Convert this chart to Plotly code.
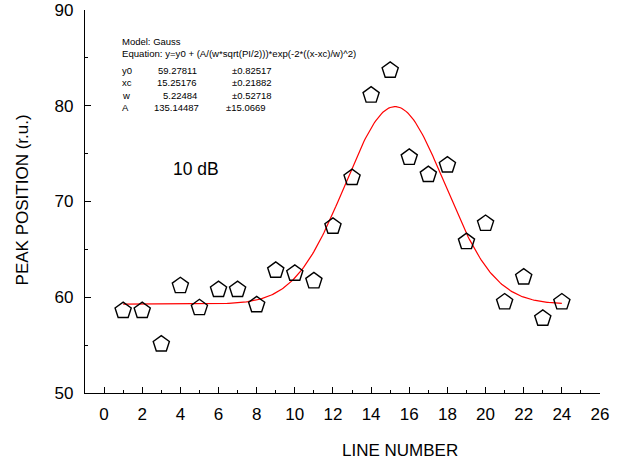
import numpy as np
import plotly.graph_objects as go

# Measured peak positions per line
line_number = [1, 2, 3, 4, 5, 6, 7, 8, 9, 10, 11, 12,
               13, 14, 15, 16, 17, 18, 19, 20, 21, 22, 23, 24]
peak_position = [58.6, 58.6, 55.1, 61.2, 58.9, 60.8, 60.8, 59.2, 62.8, 62.5, 61.7, 67.4,
                 72.5, 81.1, 83.7, 74.6, 72.8, 73.8, 65.8, 67.7, 59.5, 62.1, 57.8, 59.5]

# Gauss fit parameters
param_names = ["y0", "xc", "w", "A"]
param_values = [59.27811, 15.25176, 5.22484, 135.14487]
param_errors = ["\u00b10.82517", "\u00b10.21882", "\u00b10.52718", "\u00b115.0669"]

y0, xc, w, A = param_values
x_fit = np.linspace(1, 24, 300)
y_fit = y0 + (A / (w * np.sqrt(np.pi / 2))) * np.exp(-2 * ((x_fit - xc) / w) ** 2)

W, H = 642, 467
L, R, T, B = 85, 600, 9.5, 392.7
FONT = "Liberation Sans, Arial, sans-serif"


def px(x):
    return (x - L) / (R - L)


def py(y):
    return (B - y) / (B - T)


fig = go.Figure()
fig.add_trace(go.Scatter(
    x=x_fit, y=y_fit, mode="lines",
    line=dict(color="#ff0000", width=1.2),
    hoverinfo="skip", showlegend=False,
))
fig.add_trace(go.Scatter(
    x=line_number, y=peak_position, mode="markers",
    marker=dict(symbol="pentagon-open", size=17, color="black",
                line=dict(color="black", width=1.4)),
    showlegend=False,
))

annotations = []


def text(x, y, s, size, anchor="left"):
    annotations.append(dict(
        x=px(x), y=py(y), xref="paper", yref="paper", text=s, showarrow=False,
        xanchor=anchor, yanchor="middle", font=dict(family=FONT, size=size, color="black"),
    ))


text(120, 41, "Model: Gauss", 9.5)
text(120, 53, "Equation: y=y0 + (A/(w*sqrt(PI/2)))*exp(-2*((x-xc)/w)^2)", 9.6)
rows_y = [70, 82.5, 95, 107.5]
val_right = [199, 199, 199, 201]
err_left = [230, 230, 230, 224]
for name, val, err, yy, vr, el in zip(param_names, param_values, param_errors, rows_y, val_right, err_left):
    text(120, yy, name, 9.5)
    text(vr, yy, f"{val:.5f}", 9.5, anchor="right")
    text(el, yy, err, 9.5)

text(195.5, 169, "10 dB", 17.5, anchor="center")

# Axis titles
annotations.append(dict(
    x=px(400), y=py(450), xref="paper", yref="paper", text="LINE NUMBER",
    showarrow=False, xanchor="center", yanchor="middle",
    font=dict(family=FONT, size=17, color="black"),
))
annotations.append(dict(
    x=px(22), y=py(200), xref="paper", yref="paper", text="PEAK POSITION (r.u.)",
    showarrow=False, xanchor="center", yanchor="middle", textangle=-90,
    font=dict(family=FONT, size=17, color="black"),
))

axis_common = dict(
    showgrid=False, zeroline=False, showline=True, linecolor="black", linewidth=1.3,
    ticks="inside", tickcolor="black", tickwidth=1.3, ticklen=6, automargin=False,
    tickfont=dict(family=FONT, size=17, color="black"),
    minor=dict(ticks="inside", ticklen=3, tickcolor="black", tickwidth=1.3),
)

fig.update_layout(
    width=W, height=H,
    margin=dict(l=L, r=W - R, t=T, b=H - B, pad=0),
    paper_bgcolor="white", plot_bgcolor="white",
    xaxis=dict(range=[-1, 26], tickmode="linear", tick0=0, dtick=2,
               minor_dtick=1, ticklabelstandoff=5, **axis_common),
    yaxis=dict(range=[50, 90], tickmode="linear", tick0=50, dtick=10,
               minor_dtick=5, ticklabelstandoff=7, **axis_common),
    annotations=annotations,
)

fig.write_html("out.html")
